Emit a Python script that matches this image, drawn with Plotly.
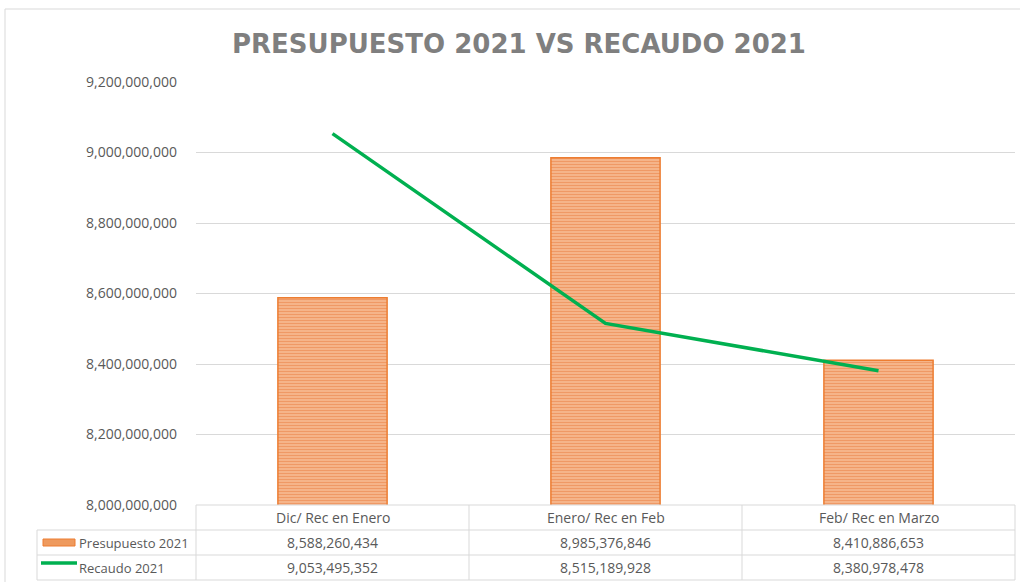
import plotly.graph_objects as go

# --------------------
# Data
# --------------------
categorias = ["Dic/ Rec en Enero", "Enero/ Rec en Feb", "Feb/ Rec en Marzo"]
presupuesto = [8588260434, 8985376846, 8410886653]
recaudo = [9053495352, 8515189928, 8380978478]
y_ticks = [8000000000, 8200000000, 8400000000, 8600000000, 8800000000, 9000000000, 9200000000]

W, H = 1020, 582
L, R, T, B = 196, 5, 82, 77
pw, ph = W - L - R, H - T - B


def px(x):
    return (x - L) / pw


def py(y):
    return (H - B - y) / ph


GRID = "#D9D9D9"
TXT = "#595959"
FONT = "Open Sans"

fig = go.Figure()

fig.add_trace(go.Bar(
    x=categorias, y=presupuesto, name="Presupuesto 2021",
    marker=dict(
        color="#F4B183",
        line=dict(color="#ED7D31", width=1.5),
        pattern=dict(shape="-", fgcolor="#EA7A3C", bgcolor="#F5B98F", size=3, solidity=0.45),
    ),
))

fig.add_trace(go.Scatter(
    x=categorias, y=recaudo, name="Recaudo 2021", mode="lines",
    line=dict(color="#00B050", width=3.5),
))

# --------------------
# Data table under the chart (Excel style)
# --------------------
shapes = []
annotations = []
cols = [196, 469, 742, 1015]
rows = [505, 530, 555, 580]


def hline(x0, x1, y):
    shapes.append(dict(type="line", xref="paper", yref="paper",
                       x0=px(x0), x1=px(x1), y0=py(y), y1=py(y),
                       line=dict(color=GRID, width=1)))


def vline(x, y0, y1):
    shapes.append(dict(type="line", xref="paper", yref="paper",
                       x0=px(x), x1=px(x), y0=py(y0), y1=py(y1),
                       line=dict(color=GRID, width=1)))


hline(196, 1015, 505)
for yy in rows[1:]:
    hline(37, 1015, yy)
for xx in cols:
    vline(xx, 505, 580)
vline(37, 530, 580)

fmt = lambda v: f"{v:,}"
for i, cat in enumerate(categorias):
    cx = px((cols[i] + cols[i + 1]) / 2)
    annotations.append(dict(x=cx, y=py(517.5), text=cat))
    annotations.append(dict(x=cx, y=py(542.5), text=fmt(presupuesto[i])))
    annotations.append(dict(x=cx, y=py(567.5), text=fmt(recaudo[i])))

for a in annotations:
    a["font"] = dict(family=FONT, size=14, color=TXT)

annotations.append(dict(x=px(77), y=py(542.5), text="Presupuesto 2021", xanchor="left",
                        font=dict(family=FONT, size=13, color=TXT)))
annotations.append(dict(x=px(77), y=py(567.5), text="Recaudo 2021", xanchor="left",
                        font=dict(family=FONT, size=13, color=TXT)))

for a in annotations:
    a.update(xref="paper", yref="paper", showarrow=False, yanchor="middle")
    a.setdefault("xanchor", "center")

# legend keys
shapes.append(dict(type="rect", xref="paper", yref="paper",
                   x0=px(43), x1=px(75), y0=py(546), y1=py(539),
                   fillcolor="#EE9A5E", line=dict(color="#ED7D31", width=1)))
shapes.append(dict(type="line", xref="paper", yref="paper",
                   x0=px(41), x1=px(77), y0=py(563), y1=py(563),
                   line=dict(color="#00B050", width=3.5)))

# chart border (left and top)
shapes.append(dict(type="line", xref="paper", yref="paper",
                   x0=px(5), x1=px(5), y0=py(9), y1=py(582),
                   line=dict(color="#D9D9D9", width=1)))
shapes.append(dict(type="line", xref="paper", yref="paper",
                   x0=px(5), x1=px(1020), y0=py(9), y1=py(9),
                   line=dict(color="#D9D9D9", width=1)))

annotations.append(dict(
    xref="paper", yref="paper", x=px(519), y=py(44), showarrow=False,
    xanchor="center", yanchor="middle",
    text="PRESUPUESTO 2021 VS RECAUDO 2021",
    font=dict(family="DejaVu Sans", size=26, color="#7F7F7F", weight="bold"),
))

fig.update_layout(
    width=W, height=H,
    margin=dict(l=L, r=R, t=T, b=B),
    plot_bgcolor="white", paper_bgcolor="white",
    showlegend=False,
    bargap=0.6,
    shapes=shapes,
    annotations=annotations,
    xaxis=dict(showticklabels=False, showgrid=False, zeroline=False, fixedrange=True),
    yaxis=dict(
        range=[8000000000, 9200000000], tickvals=y_ticks,
        ticktext=[fmt(v) for v in y_ticks],
        showgrid=True, gridcolor=GRID, gridwidth=1, zeroline=False,
        tickfont=dict(family=FONT, size=14, color=TXT),
        ticklabelstandoff=18,
    ),
)

fig.write_html("out.html", config={"displayModeBar": False},
               post_script="document.body.style.margin='0';")
